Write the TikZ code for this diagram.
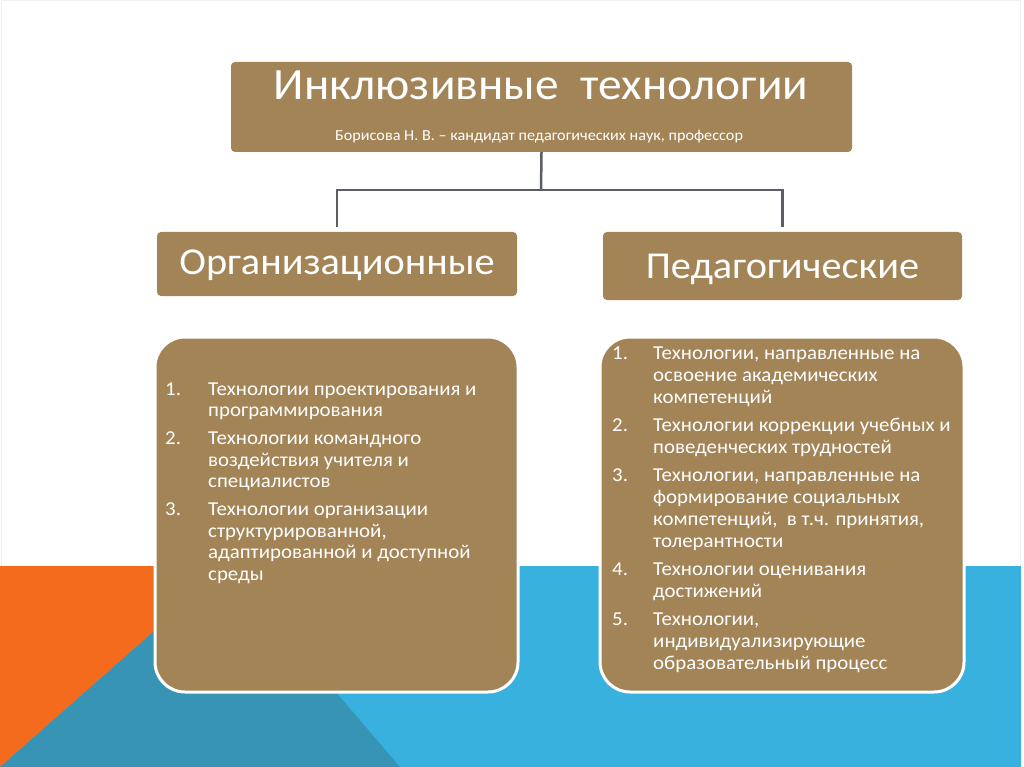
\documentclass[tikz,border=0pt]{standalone}
\usepackage{fontspec}
\setmainfont[FakeStretch=1.06]{Carlito}
\usepackage{array}
\definecolor{brownbox}{HTML}{A28457}
\definecolor{lightblue}{HTML}{38B1DF}
\definecolor{darkteal}{HTML}{3894B4}
\definecolor{orangebg}{HTML}{F46B1E}
\definecolor{conngray}{HTML}{5B5F65}
\definecolor{framegray}{HTML}{F0F0F0}
\tikzset{
  headbox/.style={draw=none, fill=brownbox, rounded corners=4pt, inner sep=0pt},
  listbox/.style={draw=white, line width=3pt, fill=brownbox, rounded corners=30pt, inner sep=0pt},
  conn/.style={draw=conngray, line width=2.5pt},
  wtext/.style={text=white, inner sep=0pt},
  listtext/.style={text=white, inner sep=0pt, align=left}
}
\begin{document}
\begin{tikzpicture}[x=1pt, y=-1pt]
\useasboundingbox (0,0) rectangle (1024,767);
\fill[white] (0,0) rectangle (1024,767);
\draw[framegray, line width=1pt] (1,1) rectangle (1020,766);
% background band
\fill[lightblue] (0,566) rectangle (1021,767);
\fill[orangebg] (0,566) -- (228,566) -- (0,767) -- cycle;
\fill[darkteal] (0,767) -- (228,566) -- (400,767) -- cycle;

% top box
\node[headbox, minimum width=621pt, minimum height=90pt] (top) at (541.5,107) {};
\node[wtext, anchor=base, font=\fontsize{44.7}{50}\selectfont] (title) at (541,100) {Инклюзивные\ \ технологии};
\node[wtext, anchor=base, font=\fontsize{15.3}{18}\selectfont] (author) at (539,141) {Борисова Н. В. – кандидат педагогических наук, профессор};

% level 2 boxes
\node[headbox, minimum width=360pt, minimum height=64pt] (org) at (337,264) {};
\node[wtext, anchor=base, font=\fontsize{38}{44}\selectfont] (orgtext) at (337,274) {Организационные};
\node[headbox, minimum width=359pt, minimum height=68pt] (ped) at (782.5,266) {};
\node[wtext, anchor=base, font=\fontsize{38}{44}\selectfont] (pedtext) at (782.5,278) {Педагогические};

% connectors
\coordinate (j) at (541,190);
\draw[conn] (top.south) -- (j);
\draw[conn, shorten >=5pt] (j) -| (org.north);
\draw[conn, shorten >=5pt] (j) -| (ped.north);

% lower boxes
\node[listbox, minimum width=363pt, minimum height=355pt] (orgbox) at (336.5,514.5) {};
\node[listbox, minimum width=364pt, minimum height=355pt] (pedbox) at (782,514.5) {};

\node[listtext, anchor=base west, font=\fontsize{19.7}{21.7}\selectfont] (orglist) at (165,395) {%
\begin{tabular}[t]{@{}p{43pt}@{}l@{}}
1. & Технологии проектирования и\\
   & программирования\\[6pt]
2. & Технологии командного\\
   & воздействия учителя и\\
   & специалистов\\[6pt]
3. & Технологии организации\\
   & структурированной,\\
   & адаптированной и доступной\\
   & среды
\end{tabular}};

\node[listtext, anchor=base west, font=\fontsize{19.7}{22}\selectfont] (pedlist) at (612,359.5) {%
\begin{tabular}[t]{@{}p{41pt}@{}l@{}}
1. & Технологии, направленные на\\
   & освоение академических\\
   & компетенций\\[6pt]
2. & Технологии коррекции учебных и\\
   & поведенческих трудностей\\[6pt]
3. & Технологии, направленные на\\
   & формирование социальных\\
   & компетенций,\ \ в т.ч. принятия,\\
   & толерантности\\[6pt]
4. & Технологии оценивания\\
   & достижений\\[6pt]
5. & Технологии,\\
   & индивидуализирующие\\
   & образовательный процесс
\end{tabular}};
\end{tikzpicture}
\end{document}
